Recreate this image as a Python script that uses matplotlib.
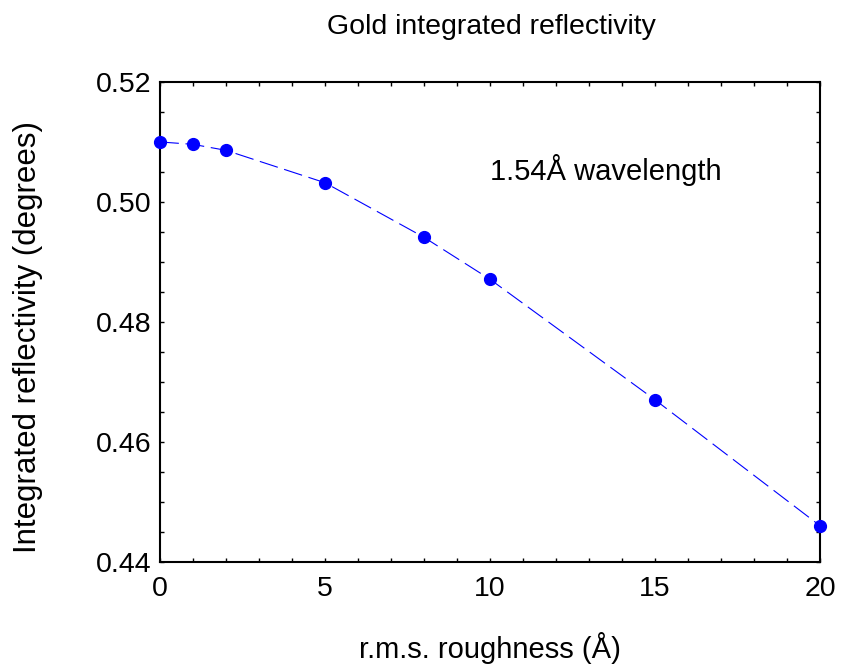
import matplotlib
matplotlib.use("Agg")
import matplotlib.pyplot as plt
from matplotlib.ticker import MultipleLocator, FormatStrFormatter

plt.rcParams['font.family'] = ['Liberation Sans', 'DejaVu Sans']

roughness = [0, 1, 2, 5, 8, 10, 15, 20]
reflectivity = [0.5100, 0.5096, 0.5086, 0.5032, 0.4941, 0.4871, 0.4670, 0.4460]

fig = plt.figure(figsize=(8.57, 6.66), dpi=100)
ax = fig.add_axes([0.1867, 0.1566, 0.7701, 0.7203])

ax.plot(roughness, reflectivity, color='blue', lw=0.8, dashes=(17, 6), zorder=2)
ax.plot(roughness, reflectivity, 'o', color='blue', ms=8.5, clip_on=False, zorder=3)

ax.set_xlim(0, 20)
ax.set_ylim(0.44, 0.52)
ax.xaxis.set_major_locator(MultipleLocator(5))
ax.xaxis.set_minor_locator(MultipleLocator(1))
ax.yaxis.set_major_locator(MultipleLocator(0.02))
ax.yaxis.set_minor_locator(MultipleLocator(0.005))
ax.yaxis.set_major_formatter(FormatStrFormatter('%.2f'))
ax.tick_params(which='both', direction='in', top=True, right=True, labelsize=20.5,
               width=1, length=3)
ax.tick_params(axis='x', which='major', pad=10)
ax.tick_params(axis='y', which='major', pad=6)
for s in ax.spines.values():
    s.set_linewidth(1.5)

ax.set_xlabel('r.m.s. roughness (Å)', fontsize=21, labelpad=22)
ax.set_ylabel('Integrated reflectivity (degrees)', fontsize=22.5)
ax.yaxis.set_label_coords(-0.177, 0.469)
fig.text(0.573, 0.96, 'Gold integrated reflectivity', fontsize=20.5, ha='center', va='center')
ax.text(13.5, 0.5053, '1.54Å wavelength', fontsize=21, ha='center', va='center')

fig.savefig('out.png', dpi=100)
